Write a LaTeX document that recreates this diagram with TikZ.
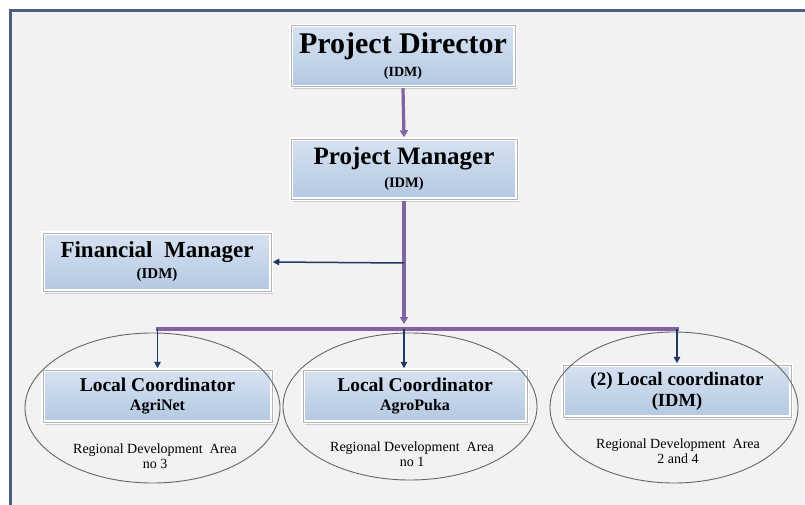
\documentclass[tikz,border=0pt]{standalone}
\usepackage{fontspec}
\setmainfont{Liberation Serif}
\usetikzlibrary{shapes.geometric,shadows,arrows.meta}
\definecolor{bg}{RGB}{242,242,242}
\definecolor{framec}{RGB}{74,96,130}
\definecolor{purp}{RGB}{128,100,162}
\definecolor{navy}{RGB}{31,56,100}
\definecolor{boxtop}{RGB}{214,226,241}
\definecolor{boxbot}{RGB}{180,200,226}
\tikzset{
 box/.style={rectangle, draw=white, line width=3.5pt, top color=boxtop, bottom color=boxbot,
   drop shadow={shadow xshift=1.5pt, shadow yshift=-3pt, opacity=0.35},
   align=center, inner sep=2pt, postaction={draw=black!30, line width=0.6pt}},
 lines/.style={font=\fontsize{10}{#1}\selectfont},
 region/.style={ellipse, draw=black!60, line width=0.9pt},
 purpline/.style={draw=purp, line width=3.2pt},
 purparrow/.style={purpline, -{Triangle[width=8pt,length=7pt]}},
 navyarrow/.style={draw=navy, line width=1.5pt, -{Triangle[width=6.5pt,length=6.5pt]}},
 note/.style={align=center, font=\fontsize{14}{15.5}\selectfont}
}
\newcommand{\fsz}[2]{{\fontsize{#1}{#1}\selectfont\bfseries #2}}
\begin{document}
\begin{tikzpicture}[x=1pt,y=-1pt]
\useasboundingbox (0,0) rectangle (805,505);
\clip (0,0) rectangle (805,505);
\fill[white] (0,0) rectangle (805,505);
\draw[draw=framec, line width=3pt, fill=bg] (10.5,10.5) rectangle (830,530);

% boxes
\node[box, lines=23, minimum width=224pt, minimum height=61pt] (pd) at (403,56)
  {\fsz{30}{Project Director}\\\fsz{14}{(IDM)}};
\node[box, lines=23, minimum width=226pt, minimum height=60pt] (pm) at (404,169)
  {\fsz{25}{Project Manager}\\\fsz{14.5}{(IDM)}};
\node[box, lines=21, minimum width=228pt, minimum height=58pt] (fm) at (157,262)
  {\fsz{23}{Financial\ \ Manager}\\\fsz{15}{(IDM)}};
\node[box, lines=19, minimum width=229pt, minimum height=52pt] (lc1) at (157.5,396)
  {\fsz{19.5}{Local Coordinator}\\\fsz{16}{AgriNet}};
\node[box, lines=19, minimum width=224pt, minimum height=52pt] (lc2) at (415,396)
  {\fsz{19.5}{Local Coordinator}\\\fsz{16}{AgroPuka}};
\node[box, lines=21, minimum width=228pt, minimum height=52pt] (lc3) at (677,391)
  {\fsz{19}{(2) Local coordinator}\\\fsz{18.5}{(IDM)}};

% regions
\node[region, minimum width=255pt, minimum height=150pt] (r1) at (152.5,408) {};
\node[region, minimum width=254pt, minimum height=147pt] (r2) at (410,406.5) {};
\node[region, minimum width=248pt, minimum height=151pt] (r3) at (674,407.5) {};
\node[note] (t1) at (155,456) {Regional Development\ \ Area\\no 3};
\node[note] (t2) at (412,454) {Regional Development\ \ Area\\no 1};
\node[note] (t3) at (678,451) {Regional Development\ \ Area\\2 and 4};

% connectors
\coordinate (mid) at (pm.south |- 0,324);
\coordinate (fmj) at (pm.south |- 0,263);
\coordinate (barL) at (lc1.north |- 0,329);
\coordinate (barC) at (pm.south |- 0,329);
\coordinate (barR) at (lc3.north |- 0,329);
\draw[purparrow] (pd.south) -- (pm.north);
\draw[purparrow] (pm.south) -- (mid);
\draw[purpline] ([xshift=-1.6pt]barL) -- ([xshift=1.6pt]barR);
\draw[navyarrow] (fmj) -- (fm.east);
\draw[navyarrow] (barL) -- (lc1.north);
\draw[navyarrow] (barC) -- (barC |- lc2.north);
\draw[navyarrow] (barR) -- (lc3.north);
\end{tikzpicture}
\end{document}
